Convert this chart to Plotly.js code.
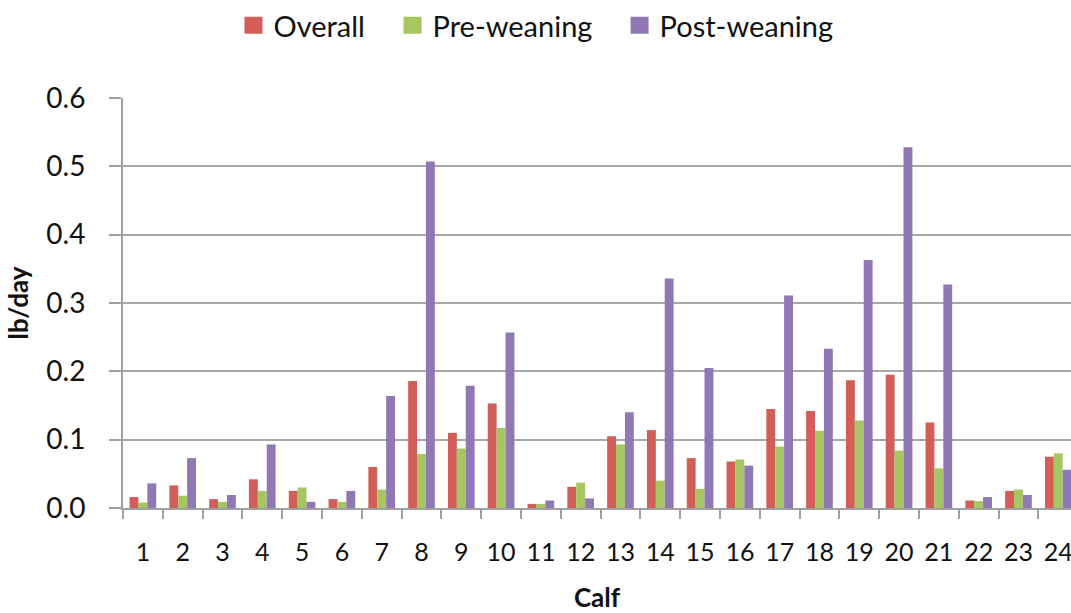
<!DOCTYPE html>
<html>
<head>
<meta charset="utf-8">
<script src="https://cdn.plot.ly/plotly-3.0.1.min.js"></script>
<style>html,body{margin:0;padding:0;background:#fff;}#chart{width:1071px;height:613px;}</style>
</head>
<body>
<div id="chart"></div>
<script>
const calves = ['1','2','3','4','5','6','7','8','9','10','11','12','13','14','15','16','17','18','19','20','21','22','23','24'];
const overall = [0.016,0.033,0.013,0.042,0.025,0.013,0.060,0.186,0.110,0.153,0.006,0.031,0.105,0.114,0.073,0.068,0.145,0.142,0.187,0.195,0.125,0.011,0.025,0.075];
const preWeaning = [0.008,0.018,0.009,0.025,0.030,0.009,0.027,0.079,0.087,0.117,0.006,0.037,0.093,0.040,0.028,0.071,0.090,0.113,0.128,0.084,0.058,0.010,0.027,0.080];
const postWeaning = [0.036,0.073,0.019,0.093,0.009,0.025,0.164,0.507,0.179,0.257,0.011,0.014,0.140,0.336,0.205,0.062,0.311,0.233,0.363,0.528,0.327,0.016,0.019,0.056];
const seriesNames = ['Overall','Pre-weaning','Post-weaning'];
const yTicks = [0,0.1,0.2,0.3,0.4,0.5,0.6];

const colors = ['#D35D57','#A6C662','#8F78B4'];
const font = 'Lato, Carlito, Calibri, sans-serif';
const legendIds = ['legend','legend2','legend3'];
const legendX = [0.218, 0.3665, 0.5785];
const data = [overall, preWeaning, postWeaning].map((vals, i) => ({
  type: 'bar', x: calves, y: vals, name: seriesNames[i], legend: legendIds[i],
  marker: {color: colors[i]}
}));
const layout = {
  width: 1071, height: 613,
  margin: {l: 123, r: 0, t: 98, b: 105, pad: 0},
  paper_bgcolor: '#fff', plot_bgcolor: '#fff',
  font: {family: font, color: '#111', size: 26},
  barmode: 'group', bargap: 0.33, bargroupgap: 0,
  showlegend: true,
  xaxis: {type: 'category', range: [-0.5, 23.32], tickson: 'boundaries', ticks: 'outside', ticklen: 9, tickwidth: 2,
          tickangle: 0, tickcolor: '#A0A0A0', showline: true, linecolor: '#A0A0A0', linewidth: 2, showgrid: false,
          tickfont: {family: font, size: 25, color: '#111'}, ticklabelstandoff: 21,
          title: {text: '<b>Calf</b>', font: {family: font, size: 26, color: '#111'}, standoff: 27}},
  yaxis: {range: [0, 0.6], tickvals: yTicks, tickformat: '.1f', ticks: 'outside', ticklen: 12, tickwidth: 2,
          tickcolor: '#A0A0A0', showline: true, linecolor: '#A0A0A0', linewidth: 2, showgrid: true,
          gridcolor: '#A8A8A8', gridwidth: 2, zeroline: false,
          tickfont: {family: font, size: 28, color: '#111'}, ticklabelstandoff: 18,
          title: {text: '<b>lb/day</b>', font: {family: font, size: 26, color: '#111'}, standoff: 10}}
};
legendIds.forEach((id, i) => {
  layout[id] = {orientation: 'h', xref: 'container', yref: 'container', x: legendX[i], xanchor: 'left', y: 1.0, yanchor: 'top',
                font: {family: font, size: 29, color: '#111'}, bgcolor: 'rgba(0,0,0,0)'};
});
Plotly.newPlot('chart', data, layout, {displayModeBar: false, staticPlot: true}).then(gd => {
  gd.querySelectorAll('.legendpoints path').forEach(p => p.setAttribute('d', 'M9,8.5H-9V-8.5H9Z'));
});
</script>
</body>
</html>
